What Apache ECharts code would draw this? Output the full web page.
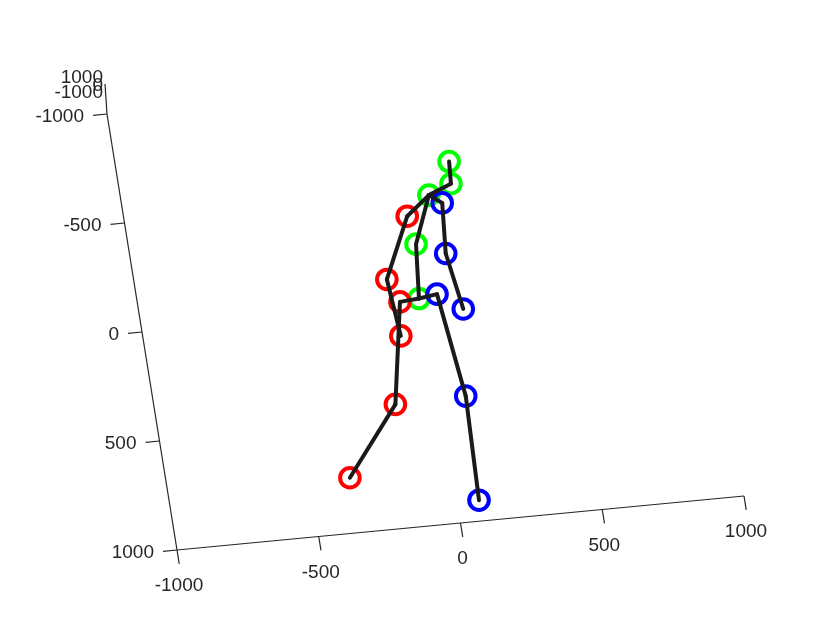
<!DOCTYPE html>
<html>
<head>
<meta charset="utf-8">
<script src="https://cdn.jsdelivr.net/npm/echarts@6/dist/echarts.min.js"></script>
<style>
  html, body { margin: 0; background: #fff; }
  #chart { width: 822px; height: 617px; }
</style>
</head>
<body>
<div id="chart"></div>
<script>
const X_TICKS = [-1000, -500, 0, 500, 1000]
const Y_TICKS = [-1000, -500, 0, 500, 1000]
const Z_TICKS = [-1000, 0, 1000]

const JOINTS = ['hip', 'spine', 'thorax', 'neck', 'head',
  'rShoulder', 'rElbow', 'rWrist', 'rHip', 'rKnee', 'rFoot',
  'lShoulder', 'lElbow', 'lWrist', 'lHip', 'lKnee', 'lFoot']
const JOINT_X = [-19, 1, 73, 156, 162, -14, -120, -103, -87, -160, -359, 115, 99, 129, 46, 89, 77]
const JOINT_Y = [-32, -279, -495, -537, -638, -409, -132, 129, -25, 436, 748, -454, -224, 34, -44, 429, 905]
const JOINT_SIDE = ['center', 'center', 'center', 'center', 'center',
  'right', 'right', 'right', 'right', 'right', 'right',
  'left', 'left', 'left', 'left', 'left', 'left']

const BONES = [
  ['hip', 'spine'], ['spine', 'thorax'], ['thorax', 'neck'], ['neck', 'head'],
  ['thorax', 'rShoulder'], ['rShoulder', 'rElbow'], ['rElbow', 'rWrist'],
  ['thorax', 'lShoulder'], ['lShoulder', 'lElbow'], ['lElbow', 'lWrist'],
  ['hip', 'rHip'], ['rHip', 'rKnee'], ['rKnee', 'rFoot'],
  ['hip', 'lHip'], ['lHip', 'lKnee'], ['lKnee', 'lFoot']
]

const SIDE_COLORS = { center: '#00ff00', right: '#ff0000', left: '#0000ff' }
const SIDES = ['center', 'right', 'left']

const AXIS_COLOR = '#262626'
const FONT = '19px "Liberation Sans", Arial, sans-serif'
// the 3d view leans the frame: left axis drifts left going up, bottom axis rises going right
const SHEAR_X = -70
const SHEAR_Y = -54
const TICK_LEN = 14

const xMin = X_TICKS[0]
const xMax = X_TICKS[X_TICKS.length - 1]
const yMin = Y_TICKS[0]
const yMax = Y_TICKS[Y_TICKS.length - 1]
const zMin = Z_TICKS[0]
const zMax = Z_TICKS[Z_TICKS.length - 1]

function project(api, x, y) {
  const p = api.coord([x, y])
  const fx = (x - xMin) / (xMax - xMin)
  const fy = (yMax - y) / (yMax - yMin)
  return [p[0] + SHEAR_X * fy, p[1] + SHEAR_Y * fx]
}

function unit(a, b) {
  const dx = b[0] - a[0]
  const dy = b[1] - a[1]
  const len = Math.hypot(dx, dy)
  return [dx / len, dy / len]
}

function frame(api) {
  const o = project(api, xMin, yMax)
  return {
    o,
    ex: unit(o, project(api, xMax, yMax)),
    ey: unit(o, project(api, xMin, yMin))
  }
}

const axisLineData = [
  [xMin, yMax, xMax, yMax, 0],
  [xMin, yMax, xMin, yMin, 1],
  [xMin, yMin, xMin, yMin, 2]
]

const tickData = [
  ...X_TICKS.map((t) => [t, yMax, 0, 0]),
  ...Y_TICKS.map((t) => [xMin, t, 1, 0]),
  ...Z_TICKS.map((t) => [xMin, yMin, 2, t])
]

const boneData = BONES.map(([a, b]) => {
  const i = JOINTS.indexOf(a)
  const j = JOINTS.indexOf(b)
  return [JOINT_X[i], JOINT_Y[i], JOINT_X[j], JOINT_Y[j]]
})

const jointData = JOINTS.map((name, i) => [JOINT_X[i], JOINT_Y[i], SIDES.indexOf(JOINT_SIDE[i])])

const chart = echarts.init(document.getElementById('chart'), null, { renderer: 'canvas' })

chart.setOption({
  backgroundColor: '#ffffff',
  animation: false,
  grid: { left: 177, top: 114, width: 567, height: 436 },
  xAxis: { type: 'value', min: xMin, max: xMax, show: false },
  yAxis: { type: 'value', min: yMin, max: yMax, inverse: true, show: false },
  series: [
    {
      type: 'custom',
      silent: true,
      z: 1,
      data: axisLineData,
      encode: { x: [0, 2], y: [1, 3] },
      renderItem(params, api) {
        const kind = api.value(4)
        const p1 = project(api, api.value(0), api.value(1))
        let p2 = project(api, api.value(2), api.value(3))
        if (kind === 2) p2 = [p1[0] - 2, p1[1] - 30]
        return {
          type: 'line',
          shape: { x1: p1[0], y1: p1[1], x2: p2[0], y2: p2[1] },
          style: { stroke: AXIS_COLOR, lineWidth: 1.2 }
        }
      }
    },
    {
      type: 'custom',
      silent: true,
      z: 1,
      data: tickData,
      encode: { x: 0, y: 1 },
      renderItem(params, api) {
        const axis = api.value(2)
        const x = api.value(0)
        const y = api.value(1)
        const p = project(api, x, y)
        const f = frame(api)
        if (axis === 2) {
          const z = api.value(3)
          return {
            type: 'text',
            style: {
              text: String(z), x: p[0] - 4, y: p[1] - 21 - (z - zMin) / (zMax - zMin) * 15,
              fill: AXIS_COLOR, font: FONT, align: 'right', verticalAlign: 'middle'
            }
          }
        }
        const dir = axis === 0 ? f.ey : f.ex
        const end = [p[0] - dir[0] * TICK_LEN, p[1] - dir[1] * TICK_LEN]
        const label = axis === 0
          ? { text: String(x), x: p[0] + 2, y: p[1] + 36, align: 'center' }
          : { text: String(y), x: p[0] - 23, y: p[1] + 3, align: 'right' }
        return {
          type: 'group',
          children: [
            {
              type: 'line',
              shape: { x1: p[0], y1: p[1], x2: end[0], y2: end[1] },
              style: { stroke: AXIS_COLOR, lineWidth: 1.2 }
            },
            {
              type: 'text',
              style: Object.assign(label, { fill: AXIS_COLOR, font: FONT, verticalAlign: 'middle' })
            }
          ]
        }
      }
    },
    {
      type: 'custom',
      silent: true,
      z: 2,
      data: jointData,
      encode: { x: 0, y: 1 },
      renderItem(params, api) {
        const p = project(api, api.value(0), api.value(1))
        return {
          type: 'circle',
          shape: { cx: p[0], cy: p[1], r: 9.8 },
          style: { fill: 'none', stroke: SIDE_COLORS[SIDES[api.value(2)]], lineWidth: 4 }
        }
      }
    },
    {
      type: 'custom',
      silent: true,
      z: 3,
      data: boneData,
      encode: { x: [0, 2], y: [1, 3] },
      renderItem(params, api) {
        const p1 = project(api, api.value(0), api.value(1))
        const p2 = project(api, api.value(2), api.value(3))
        return {
          type: 'line',
          shape: { x1: p1[0], y1: p1[1], x2: p2[0], y2: p2[1] },
          style: { stroke: '#1a1a1a', lineWidth: 4, lineCap: 'round' }
        }
      }
    }
  ]
})

window.addEventListener('resize', () => chart.resize())
</script>
</body>
</html>
